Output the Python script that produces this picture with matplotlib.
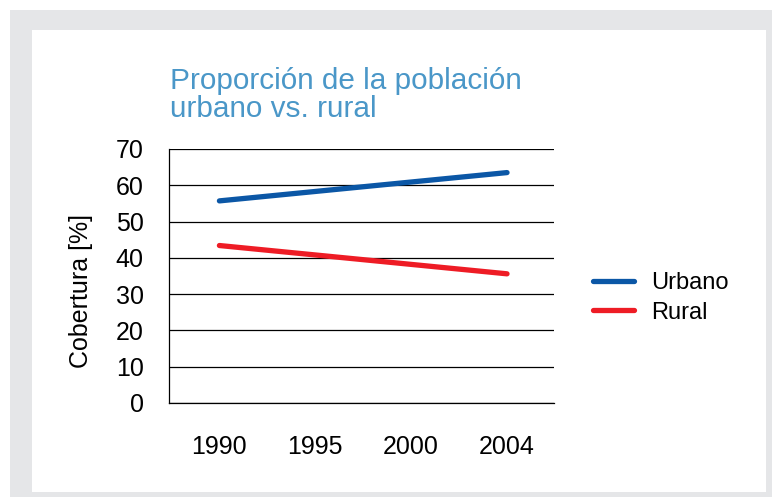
import matplotlib
matplotlib.use("Agg")
import matplotlib.pyplot as plt
from matplotlib.patches import Rectangle

# Data
years = ["1990", "1995", "2000", "2004"]
urbano = [55.7, 58.3, 60.9, 63.5]
rural = [43.4, 40.8, 38.2, 35.6]
y_ticks = [0, 10, 20, 30, 40, 50, 60, 70]

plt.rcParams['font.family'] = ['Liberation Sans', 'DejaVu Sans']

W, H = 772, 503
fig = plt.figure(figsize=(W / 100, H / 100), dpi=100)
fig.patch.set_facecolor("white")

# Gray frame and white inner panel (pixel coords -> figure fractions)
def px_rect(x0, y0, x1, y1, color):
    fig.patches.append(Rectangle((x0 / W, 1 - y1 / H), (x1 - x0) / W, (y1 - y0) / H,
                                 transform=fig.transFigure, facecolor=color,
                                 edgecolor="none", zorder=-10))

px_rect(10, 10, 772, 497, "#e5e6e8")
px_rect(32, 30, 766, 492, "white")

ax = fig.add_axes([168.6 / W, 1 - 403 / H, (554 - 168.6) / W, (403 - 149) / H])
ax.set_facecolor("none")

x = range(len(years))
ax.plot(x, urbano, color="#0b57a6", lw=3.8, solid_capstyle="round", label="Urbano")
ax.plot(x, rural, color="#ee1c25", lw=3.8, solid_capstyle="round", label="Rural")

ax.set_xlim(-0.53, len(years) - 0.51)
ax.set_ylim(0, 70)
ax.set_yticks(y_ticks)
ax.set_xticks(list(x))
ax.set_xticklabels(years)
ax.tick_params(axis="both", length=0, labelsize=18)
ax.tick_params(axis="x", pad=23)
ax.tick_params(axis="y", pad=18)
ax.grid(axis="y", color="black", lw=0.9)
ax.set_axisbelow(True)
for s in ["top", "right"]:
    ax.spines[s].set_visible(False)
ax.spines["left"].set_linewidth(0.9)
ax.spines["bottom"].set_linewidth(0.9)

fig.text(81 / W, 1 - 291 / H, "Cobertura [%]", rotation=90, fontsize=18,
         ha="center", va="center")

fig.text(170 / W, 1 - 117 / H, "Proporción de la población\nurbano vs. rural",
         fontsize=21.4, color="#4a97c8", ha="left", va="baseline", linespacing=1.02)

leg = fig.legend(loc="center left", bbox_to_anchor=(593 / W, 1 - 298 / H),
                 frameon=False, fontsize=17, handlelength=1.75, handletextpad=0.7,
                 labelspacing=0.3, borderpad=0, borderaxespad=0)

plt.savefig("out.png", dpi=100)
